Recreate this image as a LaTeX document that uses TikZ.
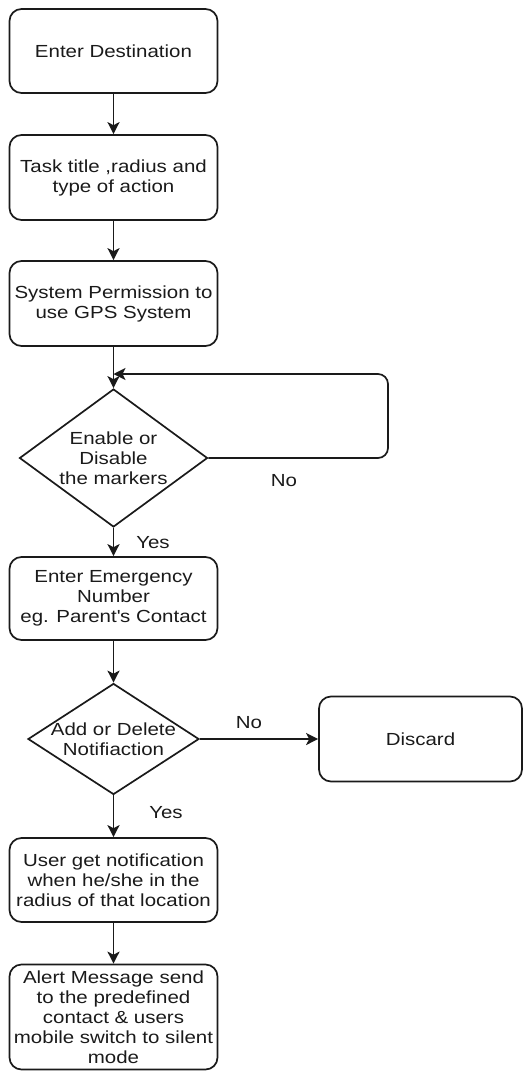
\documentclass[tikz,border=0pt]{standalone}
\usepackage{fontspec}
\setmainfont{Liberation Sans}[FakeStretch=1.17]
\usetikzlibrary{shapes.geometric,arrows.meta}
\definecolor{ink}{HTML}{1A1A1A}
\begin{document}
\begin{tikzpicture}[x=1pt,y=-1pt,
  every node/.style={text=ink,font=\fontsize{17.5}{20}\selectfont},
  box/.style={draw=ink,line width=1.7pt,rounded corners=12pt,minimum width=208pt,inner sep=0pt,align=center},
  dia/.style={draw=ink,line width=1.7pt,diamond,inner sep=0pt},
  txt/.style={align=center,inner sep=0pt},
  arr/.style={draw=ink,line width=1.7pt,-{Stealth[length=12pt,width=12pt,inset=3pt]}}]
\useasboundingbox (0,0) rectangle (524,1073);
\node[box,minimum height=84pt] (b1) at (113.5,51) {Enter Destination};
\node[box,minimum height=85pt] (b2) at (113.5,177.5) {Task title ,radius and\\type of action};
\node[box,minimum height=85pt] (b3) at (113.5,303.5) {System Permission to\\use GPS System};
\node[dia,minimum width=188pt,minimum height=138pt] (d1) at (113.5,458) {};
\node[txt] at (d1) {Enable or\\Disable\\the markers};
\node[box,minimum height=83pt] (b4) at (113.5,598.5) {Enter Emergency\\Number\\eg. Parent\textquotesingle s Contact};
\node[dia,minimum width=171pt,minimum height=111pt] (d2) at (113.5,739) {};
\node[txt] at (d2) {Add or Delete\\Notifiaction};
\node[box,minimum width=203pt,minimum height=85pt] (dc) at (420.5,739) {Discard};
\node[box,minimum height=84pt] (b5) at (113.5,880) {User get notification\\when he/she in the\\radius of that location};
\node[box,minimum height=105pt] (b6) at (113.5,1017) {Alert Message send\\to the predefined\\contact \& users\\mobile switch to silent\\mode};
\coordinate (j) at (113.5,374);
\draw[arr] (b1) -- (b2);
\draw[arr] (b2) -- (b3);
\draw[arr] (b3) -- (d1.north);
\draw[arr,rounded corners=10pt] (d1.east) -- (388,458) -- (388,374) -- (j);
\draw[arr] (d1.south) -- (b4);
\draw[arr] (b4) -- (d2.north);
\draw[arr] (d2.east) -- (dc.west);
\draw[arr] (d2.south) -- (b5);
\draw[arr] (b5) -- (b6);
\node[txt] (no1) at (284,481) {No};
\node[txt] (yes1) at (153,543) {Yes};
\node[txt] (no2) at (249,723) {No};
\node[txt] (yes2) at (166,813) {Yes};
\end{tikzpicture}
\end{document}
